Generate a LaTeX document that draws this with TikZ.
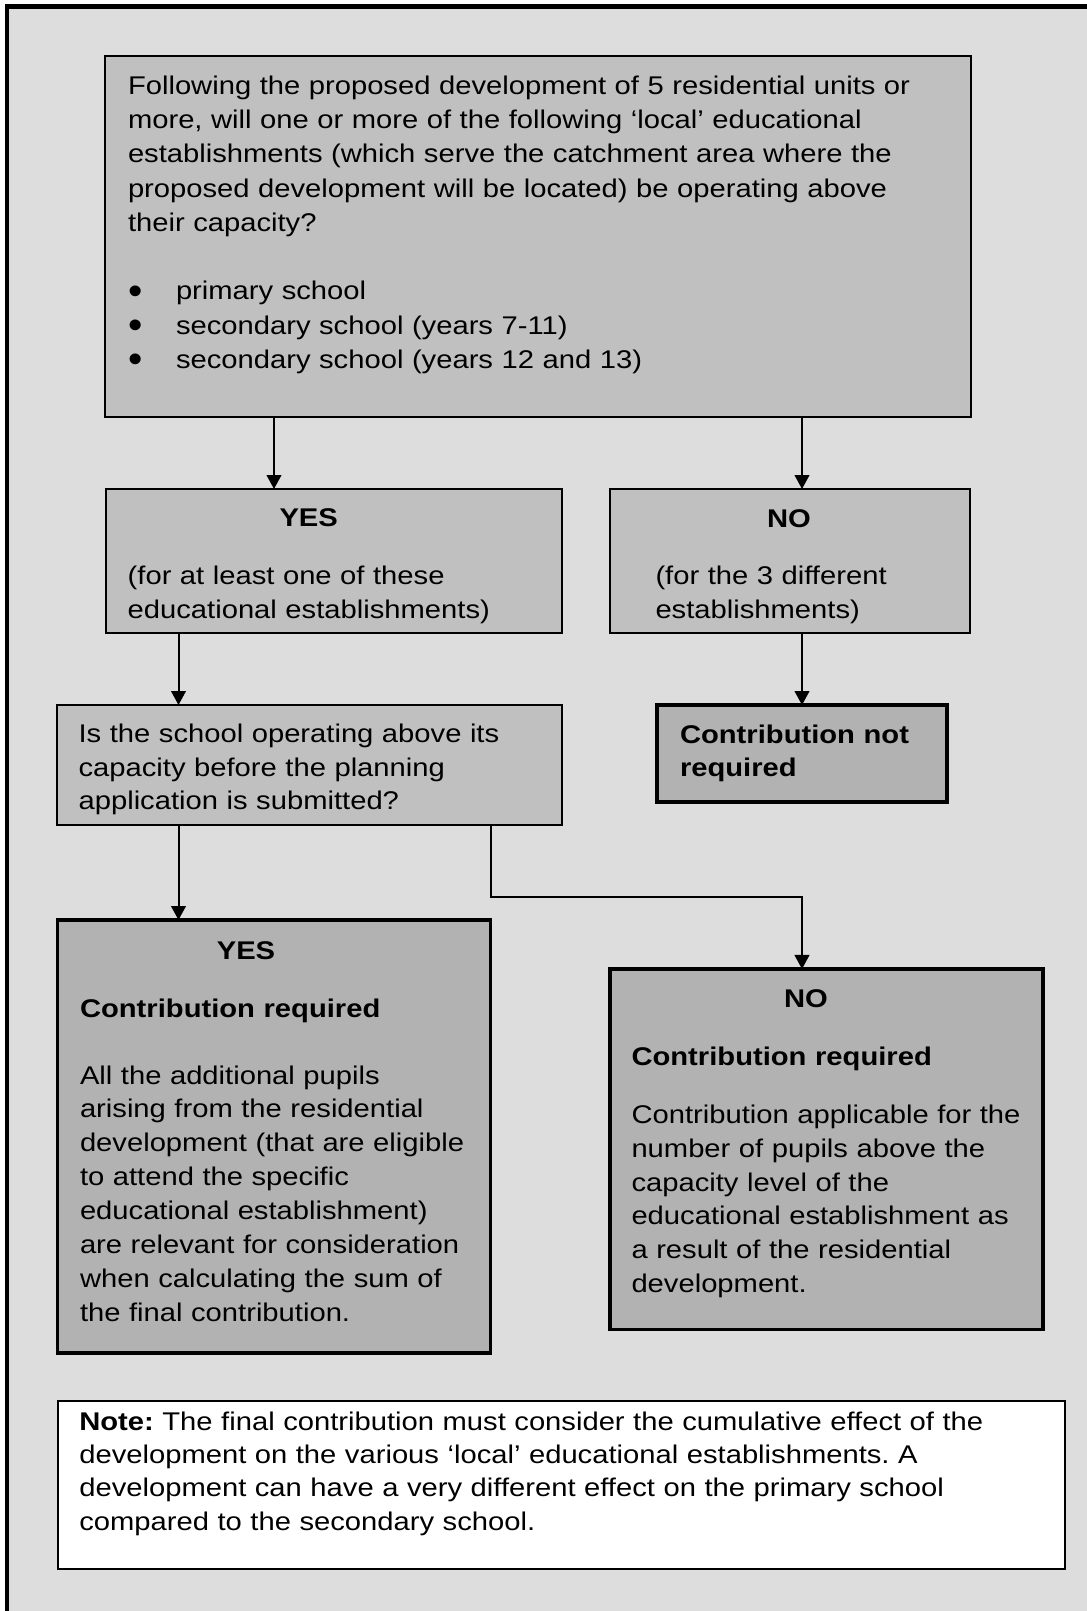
\documentclass[tikz,border=0pt]{standalone}
\usepackage{fontspec}
\setmainfont{Liberation Sans}[FakeStretch=1.14]
\usetikzlibrary{arrows.meta}
\definecolor{bg}{HTML}{DDDDDD}
\definecolor{boxA}{HTML}{C0C0C0}
\definecolor{boxB}{HTML}{B2B2B2}
\newcommand{\mybul}{\leavevmode\rlap{\smash{\raisebox{-3.4pt}{\scalebox{1.4}[1.55]{\textbullet}}}}\hspace*{36pt}}
\begin{document}
\frenchspacing
\begin{tikzpicture}[x=0.75pt,y=-0.75pt,
  box/.style={draw=black, rectangle, inner sep=0pt, outer sep=0pt, line width=1.5pt, fill=boxA},
  resbox/.style={box, fill=boxB, line width=2.3pt},
  notebox/.style={box, fill=white, line width=1.5pt},
  txt/.style={anchor=base west, inner sep=0pt, outer sep=0pt, text width=780pt, align=left, font=\fontsize{19.2}{25.4}\selectfont},
  hd/.style={anchor=base, inner sep=0pt, outer sep=0pt, font=\fontsize{19.2}{25.4}\selectfont\bfseries},
  arr/.style={line width=1.5pt, -{Triangle[length=10.5pt,width=11pt]}}
]
\useasboundingbox (0,0) rectangle (1087,1611);
\clip (0,0) rectangle (1087,1611);
% outer frame and background
\draw[line width=3.2pt, fill=bg] (7,6.5) rectangle (1110,1630);

% boxes
\node[box, minimum width=649.5pt, minimum height=270.75pt] (top) at (538,236.5) {};
\node[box, minimum width=342pt, minimum height=108pt] (yesA) at (334,561) {};
\node[box, minimum width=270pt, minimum height=108pt] (noA) at (790,561) {};
\node[box, minimum width=378.4pt, minimum height=90pt] (q) at (309.75,765) {};
\node[resbox, minimum width=217.5pt, minimum height=72.75pt] (notreq) at (802,753.5) {};
\node[resbox, minimum width=324.9pt, minimum height=324.75pt] (yesR) at (274.1,1136.5) {};
\node[resbox, minimum width=324.75pt, minimum height=270.4pt] (noR) at (826.5,1149.25) {};
\node[notebox, minimum width=755.25pt, minimum height=126pt] (note) at (561.5,1485) {};

% texts
\node[txt, font=\fontsize{19.2}{25.7}\selectfont] (toptxt) at (128,94.3) {Following the proposed development of 5 residential units or\\
more, will one or more of the following ‘local’ educational\\
establishments (which serve the catchment area where the\\
proposed development will be located) be operating above\\
their capacity?\\[25.7pt]
\mybul primary school\\
\mybul secondary school (years 7-11)\\
\mybul secondary school (years 12 and 13)};

\node[hd] (yesAh) at (308.7,526.7) {YES};
\node[txt, font=\fontsize{19.2}{25.7}\selectfont] (yesAt) at (127.7,584) {(for at least one of these\\educational establishments)};
\node[hd] (noAh) at (789,527) {NO};
\node[txt, font=\fontsize{19.2}{25.7}\selectfont] (noAt) at (655.5,584) {(for the 3 different\\establishments)};

\node[txt, font=\fontsize{19.2}{25.1}\selectfont] (qt) at (78.6,742.7) {Is the school operating above its\\capacity before the planning\\application is submitted?};

\node[txt, font=\fontsize{19.2}{25.05}\selectfont\bfseries] (notreqt) at (680,743.3) {Contribution not\\required};

\node[hd] (yesRh) at (246,959) {YES};
\node[txt, font=\fontsize{19.2}{25.4}\selectfont\bfseries] (yesRc) at (80,1017.3) {Contribution required};
\node[txt] (yesRt) at (80,1084) {All the additional pupils\\
arising from the residential\\
development (that are eligible\\
to attend the specific\\
educational establishment)\\
are relevant for consideration\\
when calculating the sum of\\
the final contribution.};

\node[hd] (noRh) at (806,1007.5) {NO};
\node[txt, font=\fontsize{19.2}{25.4}\selectfont\bfseries] (noRc) at (631.5,1065.5) {Contribution required};
\node[txt] (noRt) at (631.5,1123.3) {Contribution applicable for the\\
number of pupils above the\\
capacity level of the\\
educational establishment as\\
a result of the residential\\
development.};

\node[txt, font=\fontsize{19.2}{25.1}\selectfont] (notet) at (79.3,1430) {\textbf{Note:} The final contribution must consider the cumulative effect of the\\
development on the various ‘local’ educational establishments. A\\
development can have a very different effect on the primary school\\
compared to the secondary school.};

% connectors
\coordinate (xa) at (274,0);
\coordinate (xb) at (802,0);
\coordinate (xc) at (178.5,0);
\coordinate (xd) at (491,0);
\coordinate (bend1) at (491,897);
\coordinate (bend2) at (802,897);
\draw[arr] (xa |- top.south) -- (xa |- yesA.north);
\draw[arr] (xb |- top.south) -- (xb |- noA.north);
\draw[arr] (xc |- yesA.south) -- (xc |- q.north);
\draw[arr] (xb |- noA.south) -- (xb |- notreq.north);
\draw[arr] (xc |- q.south) -- (xc |- yesR.north);
\draw[arr] (xd |- q.south) -- (bend1) -- (bend2) -- (xb |- noR.north);
\end{tikzpicture}
\end{document}
